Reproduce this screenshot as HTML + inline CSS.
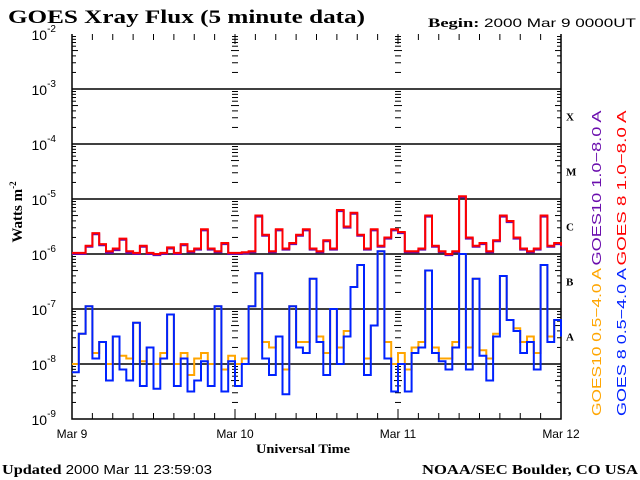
<!DOCTYPE html>
<html><head><meta charset="utf-8"><style>
body{margin:0;background:#fff;width:640px;height:480px;overflow:hidden}
svg{display:block}
.sans{font-family:"Liberation Sans",sans-serif}
.serif{font-family:"Liberation Serif",serif}
</style></head><body>
<svg id="chart" width="640" height="480" viewBox="0 0 640 480" xmlns="http://www.w3.org/2000/svg">
<text x="8" y="23" class="serif" font-size="19" font-weight="bold" textLength="357" lengthAdjust="spacingAndGlyphs">GOES Xray Flux (5 minute data)</text>
<text x="428" y="27" class="serif" font-size="13" textLength="208" lengthAdjust="spacingAndGlyphs"><tspan font-weight="bold">Begin:</tspan> <tspan class="sans" font-size="12">2000 Mar 9 0000UT</tspan></text>
<g id="grid"></g>
<g id="series"></g>
<g id="labels"></g>
<text transform="translate(22,212) rotate(-90)" text-anchor="middle" class="serif" font-size="15" font-weight="bold">Watts m<tspan font-size="9" dy="-6">-2</tspan></text>
<text x="256" y="453" class="serif" font-size="13" font-weight="bold" textLength="94" lengthAdjust="spacingAndGlyphs">Universal Time</text>
<text x="2" y="474" class="serif" font-size="14" textLength="210" lengthAdjust="spacingAndGlyphs"><tspan font-weight="bold">Updated</tspan> <tspan class="sans" font-size="13">2000 Mar 11 23:59:03</tspan></text>
<text x="422" y="474" class="serif" font-size="14" font-weight="bold" textLength="216" lengthAdjust="spacingAndGlyphs">NOAA/SEC Boulder, CO USA</text>
<text transform="translate(601,188) rotate(-90)" text-anchor="middle" class="sans" font-size="13" fill="#6a0dad" textLength="155" lengthAdjust="spacingAndGlyphs">GOES10 1.0−8.0 A</text>
<text transform="translate(626,188) rotate(-90)" text-anchor="middle" class="sans" font-size="13" fill="#ff0000" textLength="155" lengthAdjust="spacingAndGlyphs">GOES 8 1.0−8.0 A</text>
<text transform="translate(601,342) rotate(-90)" text-anchor="middle" class="sans" font-size="13" fill="#ffa500" textLength="148" lengthAdjust="spacingAndGlyphs">GOES10 0.5−4.0 A</text>
<text transform="translate(626,342) rotate(-90)" text-anchor="middle" class="sans" font-size="13" fill="#0022ff" textLength="148" lengthAdjust="spacingAndGlyphs">GOES 8 0.5−4.0 A</text>
</svg>
<script>
const yTickExps=[-2,-3,-4,-5,-6,-7,-8,-9];
const dayLabels=["Mar 9","Mar 10","Mar 11","Mar 12"];
const classLabels=["X","M","C","B","A"];
const classExps=[-3.5,-4.5,-5.5,-6.5,-7.5];
const goes8Long=[-5.98,-5.98,-5.85,-5.62,-5.82,-5.95,-5.9,-5.72,-5.95,-5.98,-5.85,-5.98,-6.0,-5.98,-5.88,-5.98,-5.82,-5.95,-5.9,-5.55,-5.9,-5.95,-5.8,-5.98,
-5.98,-5.97,-5.95,-5.3,-5.65,-5.95,-5.55,-5.9,-5.8,-5.65,-5.55,-5.9,-5.95,-5.75,-5.9,-5.2,-5.5,-5.25,-5.65,-5.9,-5.55,-5.85,-5.7,-5.55,
-5.6,-5.95,-5.95,-5.9,-5.3,-5.85,-5.95,-6.0,-5.95,-4.95,-5.7,-5.85,-5.8,-5.95,-5.75,-5.3,-5.4,-5.7,-5.9,-5.95,-5.9,-5.3,-5.85,-5.8,-5.85];
const goes10Long=[-6.0,-6.0,-5.87,-5.64,-5.84,-5.98,-5.93,-5.74,-5.98,-6.0,-5.87,-6.0,-6.02,-6.0,-5.9,-6.0,-5.84,-5.97,-5.92,-5.57,-5.92,-5.97,-5.82,-6.0,
-6.0,-5.99,-5.97,-5.32,-5.67,-5.97,-5.57,-5.92,-5.82,-5.67,-5.57,-5.92,-5.97,-5.77,-5.92,-5.22,-5.52,-5.27,-5.67,-5.92,-5.57,-5.87,-5.72,-5.57,
-5.62,-5.97,-5.97,-5.92,-5.32,-5.87,-5.97,-6.02,-5.97,-4.97,-5.72,-5.87,-5.82,-5.97,-5.77,-5.32,-5.42,-5.72,-5.92,-5.97,-5.92,-5.32,-5.87,-5.82,-5.87];
const goes8Short=[-8.15,-7.45,-6.95,-7.9,-7.6,-8.3,-7.5,-8.1,-8.3,-7.25,-8.4,-7.7,-8.45,-7.9,-7.1,-8.4,-7.9,-8.5,-8.3,-7.95,-8.4,-6.95,-8.5,-7.95,
-8.4,-8.0,-6.95,-6.35,-7.9,-8.2,-7.5,-8.55,-6.95,-7.7,-7.8,-6.45,-7.6,-8.2,-7.0,-8.0,-7.5,-6.6,-6.2,-8.2,-7.3,-5.95,-7.9,-8.5,
-8.0,-8.5,-7.8,-7.7,-6.3,-7.8,-7.95,-8.1,-7.7,-6.0,-8.1,-6.45,-7.85,-8.3,-7.5,-6.4,-7.2,-7.4,-7.8,-7.6,-8.1,-6.2,-7.6,-7.2,-7.5];
const goes10Short=[-8.0,-7.45,-6.95,-7.8,-7.6,-8.0,-7.5,-7.85,-7.9,-7.25,-7.95,-7.7,-8.0,-7.8,-7.1,-8.0,-7.8,-8.2,-7.9,-7.8,-8.0,-6.95,-8.1,-7.85,
-8.0,-7.9,-6.95,-6.35,-7.6,-7.7,-7.5,-8.1,-6.95,-7.6,-7.6,-6.45,-7.5,-7.8,-7.0,-7.7,-7.4,-6.6,-6.2,-7.9,-7.3,-5.95,-7.6,-8.0,
-7.8,-8.1,-7.7,-7.6,-6.3,-7.7,-7.9,-7.9,-7.6,-6.0,-7.7,-6.45,-7.75,-7.9,-7.45,-6.4,-7.2,-7.35,-7.6,-7.5,-7.8,-6.2,-7.5,-7.2,-7.4];

const X0=72,X1=561,Y0=34,YB=419;
const xs=h=>X0+h*(X1-X0)/72;
const ys=v=>Y0+(-2-v)*55;
const NS="http://www.w3.org/2000/svg";
function mk(tag,attrs,parent){const e=document.createElementNS(NS,tag);for(const k in attrs)e.setAttribute(k,attrs[k]);parent.appendChild(e);return e;}
const grid=document.getElementById('grid'),ser=document.getElementById('series'),lab=document.getElementById('labels');

let ax=mk('path',{d:`M${X0} ${Y0}V${YB}H${X1}V${Y0}`,stroke:'#000','stroke-width':1.5,fill:'none'},grid);


yTickExps.forEach(e=>{
  const y=ys(e);
  if(e<-2&&e>-9){const l=mk('line',{x1:X0,x2:X1,y1:y,y2:y,stroke:'#000','stroke-width':1.5},grid);
  
  }
  const t=mk('text',{x:56,y:y+6,'text-anchor':'end','font-size':14,'font-family':'Liberation Sans, sans-serif'},lab);
  
  
  t.innerHTML=`10<tspan font-size="10" dy="-8">${e}</tspan>`;
});
const cols=[[X0,1],[xs(24),0],[xs(48),0],[X1,-1]];
cols.forEach(([cx,dir])=>{
  for(let d=-9;d<-2;d++){for(let m=2;m<=9;m++){
    const y=ys(d+Math.log10(m));const len=m===5?6:4;
    let x1,x2;if(dir===1){x1=cx;x2=cx+len;}else if(dir===-1){x1=cx-len;x2=cx;}else{x1=cx-len/2-1;x2=cx+len/2+1;}
    const t=mk('line',{x1,x2,y1:y,y2:y,stroke:'#000','stroke-width':1},grid);
    
    
  }}
});
for(let h=0;h<=72;h+=3){
  const x=xs(h);const len=h%24===0?10:6;
  const b=mk('line',{x1:x,x2:x,y1:YB,y2:YB-len,stroke:'#000','stroke-width':1},grid);
  
  
  const t=mk('line',{x1:x,x2:x,y1:Y0,y2:Y0+len,stroke:'#000','stroke-width':1},grid);
  
  
}
dayLabels.forEach((d,i)=>{
  const t=mk('text',{x:xs(i*24),y:438,'text-anchor':'middle','font-size':12,'font-family':'Liberation Sans, sans-serif'},lab);
  
  
  t.textContent=d;
});
classLabels.forEach((c,i)=>{
  const t=mk('text',{x:566,y:ys(classExps[i])+4,'font-size':11,'font-weight':'bold','font-family':'Liberation Serif, serif'},lab);
  
  
  t.textContent=c;
});
function series(vals,color,name){
  let d='';const w=(X1-X0)/72;
  vals.forEach((v,i)=>{const x=xs(i),y=ys(v);
    if(i===0)d+='M'+x.toFixed(1)+' '+y.toFixed(1);
    else d+='V'+y.toFixed(1);
    if(i<vals.length-1)d+='H'+(x+w).toFixed(1);});
  const p=mk('path',{d,stroke:color,'stroke-width':2,fill:'none'},ser);
  
  
}
series(goes10Long,'#6a0dad','goes10-long-line');
series(goes8Long,'#ff0000','goes8-long-line');
series(goes10Short,'#ffa500','goes10-short-line');
series(goes8Short,'#0022ff','goes8-short-line');
</script>
</body></html>
